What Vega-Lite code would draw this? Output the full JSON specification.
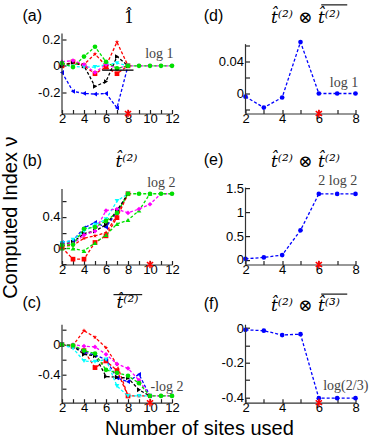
{
  "$schema": "https://vega.github.io/schema/vega-lite/v6.json",
  "padding": {"left": 0, "top": 3.5, "right": 0, "bottom": 0},
  "background": "white",
  "datasets": {
    "a": [
      {"s":"blue","x":2,"y":-0.05},{"s":"blue","x":3,"y":-0.195},{"s":"blue","x":4,"y":-0.21},{"s":"blue","x":5,"y":-0.215},{"s":"blue","x":6,"y":-0.21},{"s":"blue","x":7,"y":-0.32},{"s":"blue","x":8,"y":0},
      {"s":"red","x":2,"y":0},{"s":"red","x":3,"y":0.03},{"s":"red","x":4,"y":0},{"s":"red","x":5,"y":-0.06},{"s":"red","x":6,"y":-0.01},{"s":"red","x":7,"y":-0.06},{"s":"red","x":8,"y":0},
      {"s":"red2","x":2,"y":0.01},{"s":"red2","x":3,"y":0.02},{"s":"red2","x":4,"y":0.01},{"s":"red2","x":5,"y":0.09},{"s":"red2","x":6,"y":0},{"s":"red2","x":7,"y":0.18},{"s":"red2","x":8,"y":0},
      {"s":"black","x":2,"y":0},{"s":"black","x":3,"y":0.025},{"s":"black","x":4,"y":0},{"s":"black","x":5,"y":-0.157},{"s":"black","x":6,"y":-0.12},{"s":"black","x":7,"y":0.07},{"s":"black","x":8,"y":0},
      {"s":"cyan","x":2,"y":0.01},{"s":"cyan","x":3,"y":-0.005},{"s":"cyan","x":4,"y":-0.01},{"s":"cyan","x":5,"y":-0.01},{"s":"cyan","x":6,"y":0.01},{"s":"cyan","x":7,"y":0.02},{"s":"cyan","x":8,"y":0},
      {"s":"magenta","x":2,"y":0.03},{"s":"magenta","x":3,"y":0.04},{"s":"magenta","x":4,"y":0.01},{"s":"magenta","x":5,"y":-0.05},{"s":"magenta","x":6,"y":0.01},{"s":"magenta","x":7,"y":-0.02},{"s":"magenta","x":8,"y":0},{"s":"magenta","x":9,"y":0},{"s":"magenta","x":10,"y":0},{"s":"magenta","x":11,"y":0},{"s":"magenta","x":12,"y":0},
      {"s":"green","x":2,"y":0.02},{"s":"green","x":3,"y":-0.01},{"s":"green","x":4,"y":0.07},{"s":"green","x":5,"y":0.145},{"s":"green","x":6,"y":0.03},{"s":"green","x":7,"y":-0.02},{"s":"green","x":8,"y":0},{"s":"green","x":9,"y":0},{"s":"green","x":10,"y":0},{"s":"green","x":11,"y":0},{"s":"green","x":12,"y":0}
    ],
    "b": [
      {"s":"blue","x":2,"y":0.076},{"s":"blue","x":3,"y":0.1},{"s":"blue","x":4,"y":0.26},{"s":"blue","x":5,"y":0.33},{"s":"blue","x":6,"y":0.27},{"s":"blue","x":7,"y":0.46},{"s":"blue","x":8,"y":0.693},
      {"s":"red","x":2,"y":0.01},{"s":"red","x":3,"y":-0.135},{"s":"red","x":4,"y":-0.135},{"s":"red","x":5,"y":0.076},{"s":"red","x":6,"y":0.16},{"s":"red","x":7,"y":0.39},{"s":"red","x":8,"y":0.693},
      {"s":"red2","x":2,"y":0.03},{"s":"red2","x":3,"y":0.04},{"s":"red2","x":4,"y":0.13},{"s":"red2","x":5,"y":0.16},{"s":"red2","x":6,"y":0.2},{"s":"red2","x":7,"y":0.42},{"s":"red2","x":8,"y":0.693},
      {"s":"black","x":2,"y":0.05},{"s":"black","x":3,"y":0.08},{"s":"black","x":4,"y":0.19},{"s":"black","x":5,"y":0.22},{"s":"black","x":6,"y":0.3},{"s":"black","x":7,"y":0.48},{"s":"black","x":8,"y":0.693},
      {"s":"cyan","x":2,"y":0.07},{"s":"cyan","x":3,"y":0.11},{"s":"cyan","x":4,"y":0.22},{"s":"cyan","x":5,"y":0.3},{"s":"cyan","x":6,"y":0.37},{"s":"cyan","x":7,"y":0.6},{"s":"cyan","x":8,"y":0.693},
      {"s":"green2","x":2,"y":0},{"s":"green2","x":3,"y":0},{"s":"green2","x":4,"y":-0.03},{"s":"green2","x":5,"y":0.07},{"s":"green2","x":6,"y":0.17},{"s":"green2","x":7,"y":0.31},{"s":"green2","x":8,"y":0.36},{"s":"green2","x":9,"y":0.48},{"s":"green2","x":10,"y":0.693},
      {"s":"magenta","x":2,"y":0.05},{"s":"magenta","x":3,"y":0.06},{"s":"magenta","x":4,"y":0.17},{"s":"magenta","x":5,"y":0.22},{"s":"magenta","x":6,"y":0.48},{"s":"magenta","x":7,"y":0.5},{"s":"magenta","x":8,"y":0.45},{"s":"magenta","x":9,"y":0.5},{"s":"magenta","x":10,"y":0.56},{"s":"magenta","x":11,"y":0.693},{"s":"magenta","x":12,"y":0.693},
      {"s":"green","x":2,"y":0.04},{"s":"green","x":3,"y":0.05},{"s":"green","x":4,"y":0.25},{"s":"green","x":5,"y":0.27},{"s":"green","x":6,"y":0.35},{"s":"green","x":7,"y":0.45},{"s":"green","x":8,"y":0.693},{"s":"green","x":9,"y":0.693},{"s":"green","x":10,"y":0.693},{"s":"green","x":11,"y":0.693},{"s":"green","x":12,"y":0.693}
    ],
    "c": [
      {"s":"red2","x":2,"y":0},{"s":"red2","x":3,"y":-0.01},{"s":"red2","x":4,"y":0.19},{"s":"red2","x":5,"y":0.1},{"s":"red2","x":6,"y":-0.04},{"s":"red2","x":7,"y":-0.27},{"s":"red2","x":8,"y":-0.693},{"s":"red2","x":9,"y":-0.693},{"s":"red2","x":10,"y":-0.693},
      {"s":"red","x":2,"y":0},{"s":"red","x":3,"y":-0.02},{"s":"red","x":4,"y":-0.08},{"s":"red","x":5,"y":-0.31},{"s":"red","x":6,"y":-0.22},{"s":"red","x":7,"y":-0.35},{"s":"red","x":8,"y":-0.693},
      {"s":"blue","x":2,"y":0},{"s":"blue","x":3,"y":-0.02},{"s":"blue","x":4,"y":-0.1},{"s":"blue","x":5,"y":-0.14},{"s":"blue","x":6,"y":-0.2},{"s":"blue","x":7,"y":-0.45},{"s":"blue","x":8,"y":-0.5},{"s":"blue","x":9,"y":-0.4},{"s":"blue","x":10,"y":-0.693},
      {"s":"black","x":2,"y":0},{"s":"black","x":3,"y":-0.02},{"s":"black","x":4,"y":-0.13},{"s":"black","x":5,"y":-0.15},{"s":"black","x":6,"y":-0.43},{"s":"black","x":7,"y":-0.44},{"s":"black","x":8,"y":-0.45},{"s":"black","x":9,"y":-0.61},{"s":"black","x":10,"y":-0.693},
      {"s":"cyan","x":2,"y":0},{"s":"cyan","x":3,"y":-0.05},{"s":"cyan","x":4,"y":-0.22},{"s":"cyan","x":5,"y":-0.23},{"s":"cyan","x":6,"y":-0.2},{"s":"cyan","x":7,"y":-0.56},{"s":"cyan","x":8,"y":-0.693},{"s":"cyan","x":9,"y":-0.693},{"s":"cyan","x":10,"y":-0.693},
      {"s":"magenta","x":2,"y":0},{"s":"magenta","x":3,"y":0},{"s":"magenta","x":4,"y":-0.02},{"s":"magenta","x":5,"y":-0.03},{"s":"magenta","x":6,"y":-0.13},{"s":"magenta","x":7,"y":-0.26},{"s":"magenta","x":8,"y":-0.32},{"s":"magenta","x":9,"y":-0.48},{"s":"magenta","x":10,"y":-0.693},{"s":"magenta","x":11,"y":-0.693},{"s":"magenta","x":12,"y":-0.693},
      {"s":"green","x":2,"y":0},{"s":"green","x":3,"y":-0.01},{"s":"green","x":4,"y":-0.08},{"s":"green","x":5,"y":-0.12},{"s":"green","x":6,"y":-0.34},{"s":"green","x":7,"y":-0.38},{"s":"green","x":8,"y":-0.42},{"s":"green","x":9,"y":-0.52},{"s":"green","x":10,"y":-0.693},{"s":"green","x":11,"y":-0.693},{"s":"green","x":12,"y":-0.693}
    ],
    "d": [{"x":2,"y":-0.004},{"x":3,"y":-0.0177},{"x":4,"y":-0.005},{"x":5,"y":0.065},{"x":6,"y":0},{"x":7,"y":0},{"x":8,"y":0}],
    "e": [{"x":2,"y":0.02},{"x":3,"y":0.05},{"x":4,"y":0.1},{"x":5,"y":0.62},{"x":6,"y":1.386},{"x":7,"y":1.386},{"x":8,"y":1.386}],
    "f": [{"x":2,"y":-0.01},{"x":3,"y":-0.015},{"x":4,"y":-0.04},{"x":5,"y":-0.035},{"x":6,"y":-0.405},{"x":7,"y":-0.405},{"x":8,"y":-0.405}],
    "one": [{}]
  },
  "title": {"text": "Computed Index ν", "orient": "left", "anchor": "middle", "fontSize": 20, "fontWeight": "normal", "font": "Liberation Sans", "color": "black", "offset": 1.7, "dx": 4},
  "vconcat": [{
    "title": {"text": "Number of sites used", "orient": "bottom", "anchor": "middle", "fontSize": 20, "fontWeight": "normal", "font": "Liberation Sans", "color": "black", "offset": 4.3, "dx": 4},
    "columns": 2,
    "bounds": "flush",
    "align": "each",
    "spacing": {"row": 59.6, "column": 73.5},
    "concat": [
      {"width": 110, "height": 80, "layer": [
        {"data": {"name": "a"}, "mark": {"type": "line", "strokeDash": [3, 2], "strokeWidth": 1.3},
         "encoding": {
           "x": {"field": "x", "type": "quantitative", "scale": {"domain": [2, 12], "nice": false, "zero": false}, "axis": {"title": null, "tickCount": 50, "values": [2,3,4,5,6,7,8,9,10,11,12], "labelExpr": "datum.value % 2 == 0 ? format(datum.value, 'd') : ''", "labelOverlap": false, "labelFlush": false, "labelPadding": 3}},
           "y": {"field": "y", "type": "quantitative", "scale": {"domain": [-0.3627, 0.2456], "nice": false, "zero": false}, "axis": {"title": null, "domain": false, "tickCount": 50, "values": [-0.2, 0, 0.2], "labelExpr": "datum.value == 0.2 ? '0.2' : datum.value == 0 ? '0' : '-0.2'", "labelOverlap": false, "labelFlush": false, "labelPadding": 6}},
           "color": {"field": "s", "type": "nominal", "legend": null, "scale": {"domain": ["blue","red","red2","magenta","green","green2","black","cyan"], "range": ["#0000ff","#ff0000","#ff0000","#ff00ff","#00e000","#00e000","#000000","#00ffff"]}}
         }},
        {"data": {"name": "a"}, "mark": {"type": "point", "filled": true, "size": 22, "opacity": 1},
         "encoding": {
           "x": {"field": "x", "type": "quantitative"},
           "y": {"field": "y", "type": "quantitative"},
           "color": {"field": "s", "type": "nominal", "legend": null},
           "shape": {"field": "s", "type": "nominal", "legend": null, "scale": {"domain": ["blue","red","red2","magenta","green","green2","black","cyan"], "range": ["triangle-left","square","M0,-1L0.235,-0.324L0.951,-0.309L0.38,0.124L0.588,0.809L0,0.4L-0.588,0.809L-0.38,0.124L-0.951,-0.309L-0.235,-0.324Z","diamond","circle","triangle-up","triangle-right","triangle-down"]}}
         }},
        {"data": {"name": "one"}, "mark": {"type": "rule", "color": "#333", "strokeWidth": 1.2}, "encoding": {"x": {"datum": 2}, "y": {"datum": -0.3627}, "y2": {"datum": 0.2456}}},
        {"data": {"name": "one"}, "mark": {"type": "rule", "color": "black", "strokeWidth": 1.3}, "encoding": {"x": {"datum": 5.65}, "x2": {"datum": 8.5}, "y": {"datum": -0.033}}},
        {"data": {"name": "one"}, "mark": {"type": "point", "shape": "M0,-1L0,1M-0.8,-0.6L0.8,0.6M-0.8,0.6L0.8,-0.6", "filled": false, "stroke": "#ff0000", "strokeWidth": 1.5, "size": 60, "opacity": 1}, "encoding": {"x": {"datum": 8}, "y": {"datum": -0.3627}}},
        {"data": {"name": "one"}, "mark": {"type": "text", "align": "left", "baseline": "middle", "font": "Liberation Sans", "fontSize": 16, "color": "black"}, "encoding": {"x": {"datum": -1.6}, "y": {"datum": 0.38}, "text": {"value": "(a)"}}},
        {"data": {"name": "one"}, "mark": {"type": "text", "align": "center", "baseline": "alphabetic", "font": "DejaVu Serif", "fontSize": 16, "color": "black"}, "encoding": {"x": {"datum": 8.09}, "y": {"datum": 0.3217}, "text": {"value": "1"}}},
        {"data": {"name": "one"}, "mark": {"type": "text", "align": "center", "baseline": "alphabetic", "font": "DejaVu Serif", "fontSize": 16, "color": "black"}, "encoding": {"x": {"datum": 8.09}, "y": {"datum": 0.352}, "text": {"value": "ˆ"}}},
        {"data": {"name": "one"}, "mark": {"type": "text", "align": "right", "baseline": "alphabetic", "font": "Liberation Serif", "fontSize": 14, "color": "#444"}, "encoding": {"x": {"datum": 12.14}, "y": {"datum": 0.06}, "text": {"value": "log 1"}}}
      ]},
      {"width": 110, "height": 80, "layer": [
        {"data": {"name": "d"}, "mark": {"type": "line", "strokeDash": [3, 2], "strokeWidth": 1.3, "color": "#0000ff"},
         "encoding": {
           "x": {"field": "x", "type": "quantitative", "scale": {"domain": [2, 8], "nice": false, "zero": false}, "axis": {"title": null, "tickCount": 50, "values": [2,3,4,5,6,7,8], "labelExpr": "datum.value % 2 == 0 ? format(datum.value, 'd') : ''", "labelOverlap": false, "labelFlush": false, "labelPadding": 3}},
           "y": {"field": "y", "type": "quantitative", "scale": {"domain": [-0.0252, 0.0757], "nice": false, "zero": false}, "axis": {"title": null, "domain": false, "tickCount": 50, "values": [-0.02, 0, 0.02, 0.04, 0.06], "labelExpr": "datum.value == 0.04 ? '0.04' : datum.value == 0 ? '0' : ''", "labelOverlap": false, "labelFlush": false, "labelPadding": 6}}
         }},
        {"data": {"name": "d"}, "mark": {"type": "point", "filled": true, "size": 22, "opacity": 1, "color": "#0000ff", "shape": "circle"},
         "encoding": {"x": {"field": "x", "type": "quantitative"}, "y": {"field": "y", "type": "quantitative"}}},
        {"data": {"name": "one"}, "mark": {"type": "rule", "color": "#333", "strokeWidth": 1.2}, "encoding": {"x": {"datum": 2}, "y": {"datum": -0.0252}, "y2": {"datum": 0.0623}}},
        {"data": {"name": "one"}, "mark": {"type": "point", "shape": "M0,-1L0,1M-0.8,-0.6L0.8,0.6M-0.8,0.6L0.8,-0.6", "filled": false, "stroke": "#ff0000", "strokeWidth": 1.5, "size": 60, "opacity": 1}, "encoding": {"x": {"datum": 6}, "y": {"datum": -0.0252}}},
        {"data": {"name": "one"}, "mark": {"type": "text", "align": "left", "baseline": "middle", "font": "Liberation Sans", "fontSize": 16, "color": "black"}, "encoding": {"x": {"datum": -0.275}, "y": {"datum": 0.098}, "text": {"value": "(d)"}}},
        {"data": {"name": "one"}, "mark": {"type": "text", "align": "center", "baseline": "alphabetic", "font": "DejaVu Serif", "fontStyle": "italic", "fontSize": 17, "color": "black"}, "encoding": {"x": {"datum": 5.27}, "y": {"datum": 0.0892}, "text": {"value": "t̂⁽²⁾ ⊗ t̂⁽²⁾"}}},
        {"data": {"name": "one"}, "mark": {"type": "rule", "color": "black", "strokeWidth": 1.1}, "encoding": {"x": {"datum": 6.13}, "x2": {"datum": 7.55}, "y": {"datum": 0.1118}}},
        {"data": {"name": "one"}, "mark": {"type": "text", "align": "right", "baseline": "alphabetic", "font": "Liberation Serif", "fontSize": 14, "color": "#444"}, "encoding": {"x": {"datum": 8.15}, "y": {"datum": 0.0085}, "text": {"value": "log 1"}}}
      ]},
      {"width": 110, "height": 91.4, "layer": [
        {"data": {"name": "b"}, "mark": {"type": "line", "strokeDash": [3, 2], "strokeWidth": 1.3},
         "encoding": {
           "x": {"field": "x", "type": "quantitative", "scale": {"domain": [2, 12], "nice": false, "zero": false}, "axis": {"title": null, "tickCount": 50, "values": [2,3,4,5,6,7,8,9,10,11,12], "labelExpr": "datum.value % 2 == 0 ? format(datum.value, 'd') : ''", "labelOverlap": false, "labelFlush": false, "labelPadding": 3}},
           "y": {"field": "y", "type": "quantitative", "scale": {"domain": [-0.2025, 0.954], "nice": false, "zero": false}, "axis": {"title": null, "domain": false, "tickCount": 50, "values": [-0.2, 0, 0.2, 0.4, 0.6], "labelExpr": "datum.value == 0.4 ? '0.4' : datum.value == 0 ? '0' : ''", "labelOverlap": false, "labelFlush": false, "labelPadding": 6}},
           "color": {"field": "s", "type": "nominal", "legend": null, "scale": {"domain": ["blue","red","red2","magenta","green","green2","black","cyan"], "range": ["#0000ff","#ff0000","#ff0000","#ff00ff","#00e000","#00e000","#000000","#00ffff"]}}
         }},
        {"data": {"name": "b"}, "mark": {"type": "point", "filled": true, "size": 22, "opacity": 1},
         "encoding": {
           "x": {"field": "x", "type": "quantitative"},
           "y": {"field": "y", "type": "quantitative"},
           "color": {"field": "s", "type": "nominal", "legend": null},
           "shape": {"field": "s", "type": "nominal", "legend": null, "scale": {"domain": ["blue","red","red2","magenta","green","green2","black","cyan"], "range": ["circle","square","square","diamond","circle","triangle-up","triangle-right","triangle-down"]}}
         }},
        {"data": {"name": "one"}, "mark": {"type": "rule", "color": "#333", "strokeWidth": 1.2}, "encoding": {"x": {"datum": 2}, "y": {"datum": -0.2025}, "y2": {"datum": 0.754}}},
        {"data": {"name": "one"}, "mark": {"type": "point", "shape": "M0,-1L0,1M-0.8,-0.6L0.8,0.6M-0.8,0.6L0.8,-0.6", "filled": false, "stroke": "#ff0000", "strokeWidth": 1.5, "size": 60, "opacity": 1}, "encoding": {"x": {"datum": 10}, "y": {"datum": -0.2025}}},
        {"data": {"name": "one"}, "mark": {"type": "text", "align": "left", "baseline": "middle", "font": "Liberation Sans", "fontSize": 16, "color": "black"}, "encoding": {"x": {"datum": -1.6}, "y": {"datum": 1.11}, "text": {"value": "(b)"}}},
        {"data": {"name": "one"}, "mark": {"type": "text", "align": "center", "baseline": "alphabetic", "font": "DejaVu Serif", "fontStyle": "italic", "fontSize": 17, "color": "black"}, "encoding": {"x": {"datum": 7.86}, "y": {"datum": 1.034}, "text": {"value": "t̂⁽²⁾"}}},
        {"data": {"name": "one"}, "mark": {"type": "text", "align": "right", "baseline": "alphabetic", "font": "Liberation Serif", "fontSize": 14, "color": "#444"}, "encoding": {"x": {"datum": 12.32}, "y": {"datum": 0.78}, "text": {"value": "log 2"}}}
      ]},
      {"width": 110, "height": 91.4, "layer": [
        {"data": {"name": "e"}, "mark": {"type": "line", "strokeDash": [3, 2], "strokeWidth": 1.3, "color": "#0000ff"},
         "encoding": {
           "x": {"field": "x", "type": "quantitative", "scale": {"domain": [2, 8], "nice": false, "zero": false}, "axis": {"title": null, "tickCount": 50, "values": [2,3,4,5,6,7,8], "labelExpr": "datum.value % 2 == 0 ? format(datum.value, 'd') : ''", "labelOverlap": false, "labelFlush": false, "labelPadding": 3}},
           "y": {"field": "y", "type": "quantitative", "scale": {"domain": [-0.099, 1.825], "nice": false, "zero": false}, "axis": {"title": null, "domain": false, "tickCount": 50, "values": [0, 0.5, 1, 1.5], "labelExpr": "datum.value == 0 ? '0' : datum.value == 0.5 ? '0.5' : datum.value == 1 ? '1' : '1.5'", "labelOverlap": false, "labelFlush": false, "labelPadding": 6}}
         }},
        {"data": {"name": "e"}, "mark": {"type": "point", "filled": true, "size": 22, "opacity": 1, "color": "#0000ff", "shape": "circle"},
         "encoding": {"x": {"field": "x", "type": "quantitative"}, "y": {"field": "y", "type": "quantitative"}}},
        {"data": {"name": "one"}, "mark": {"type": "rule", "color": "#333", "strokeWidth": 1.2}, "encoding": {"x": {"datum": 2}, "y": {"datum": -0.099}, "y2": {"datum": 1.52}}},
        {"data": {"name": "one"}, "mark": {"type": "point", "shape": "M0,-1L0,1M-0.8,-0.6L0.8,0.6M-0.8,0.6L0.8,-0.6", "filled": false, "stroke": "#ff0000", "strokeWidth": 1.5, "size": 60, "opacity": 1}, "encoding": {"x": {"datum": 6}, "y": {"datum": -0.099}}},
        {"data": {"name": "one"}, "mark": {"type": "text", "align": "left", "baseline": "middle", "font": "Liberation Sans", "fontSize": 16, "color": "black"}, "encoding": {"x": {"datum": -0.275}, "y": {"datum": 2.105}, "text": {"value": "(e)"}}},
        {"data": {"name": "one"}, "mark": {"type": "text", "align": "center", "baseline": "alphabetic", "font": "DejaVu Serif", "fontStyle": "italic", "fontSize": 17, "color": "black"}, "encoding": {"x": {"datum": 5.27}, "y": {"datum": 1.96}, "text": {"value": "t̂⁽²⁾ ⊗ t̂⁽²⁾"}}},
        {"data": {"name": "one"}, "mark": {"type": "text", "align": "right", "baseline": "alphabetic", "font": "Liberation Serif", "fontSize": 14, "color": "#444"}, "encoding": {"x": {"datum": 8.09}, "y": {"datum": 1.58}, "text": {"value": "2 log 2"}}}
      ]},
      {"width": 110, "height": 78, "layer": [
        {"data": {"name": "c"}, "mark": {"type": "line", "strokeDash": [3, 2], "strokeWidth": 1.3},
         "encoding": {
           "x": {"field": "x", "type": "quantitative", "scale": {"domain": [2, 12], "nice": false, "zero": false}, "axis": {"title": null, "tickCount": 50, "values": [2,3,4,5,6,7,8,9,10,11,12], "labelExpr": "datum.value % 2 == 0 ? format(datum.value, 'd') : ''", "labelOverlap": false, "labelFlush": false, "labelPadding": 3}},
           "y": {"field": "y", "type": "quantitative", "scale": {"domain": [-0.784, 0.27], "nice": false, "zero": false}, "axis": {"title": null, "domain": false, "tickCount": 50, "values": [-0.6, -0.4, -0.2, 0, 0.2], "labelExpr": "datum.value == -0.4 ? '-0.4' : datum.value == 0 ? '0' : ''", "labelOverlap": false, "labelFlush": false, "labelPadding": 6}},
           "color": {"field": "s", "type": "nominal", "legend": null, "scale": {"domain": ["blue","red","red2","magenta","green","green2","black","cyan"], "range": ["#0000ff","#ff0000","#ff0000","#ff00ff","#00e000","#00e000","#000000","#00ffff"]}}
         }},
        {"data": {"name": "c"}, "mark": {"type": "point", "filled": true, "size": 22, "opacity": 1},
         "encoding": {
           "x": {"field": "x", "type": "quantitative"},
           "y": {"field": "y", "type": "quantitative"},
           "color": {"field": "s", "type": "nominal", "legend": null},
           "shape": {"field": "s", "type": "nominal", "legend": null, "scale": {"domain": ["blue","red","red2","magenta","green","green2","black","cyan"], "range": ["triangle-left","square","M0,-1L0.235,-0.324L0.951,-0.309L0.38,0.124L0.588,0.809L0,0.4L-0.588,0.809L-0.38,0.124L-0.951,-0.309L-0.235,-0.324Z","diamond","circle","triangle-up","triangle-right","triangle-down"]}}
         }},
        {"data": {"name": "one"}, "mark": {"type": "rule", "color": "#333", "strokeWidth": 1.2}, "encoding": {"x": {"datum": 2}, "y": {"datum": -0.784}, "y2": {"datum": 0.27}}},
        {"data": {"name": "one"}, "mark": {"type": "point", "shape": "M0,-1L0,1M-0.8,-0.6L0.8,0.6M-0.8,0.6L0.8,-0.6", "filled": false, "stroke": "#ff0000", "strokeWidth": 1.5, "size": 60, "opacity": 1}, "encoding": {"x": {"datum": 10}, "y": {"datum": -0.784}}},
        {"data": {"name": "one"}, "mark": {"type": "text", "align": "left", "baseline": "middle", "font": "Liberation Sans", "fontSize": 16, "color": "black"}, "encoding": {"x": {"datum": -1.6}, "y": {"datum": 0.562}, "text": {"value": "(c)"}}},
        {"data": {"name": "one"}, "mark": {"type": "text", "align": "center", "baseline": "alphabetic", "font": "DejaVu Serif", "fontStyle": "italic", "fontSize": 17, "color": "black"}, "encoding": {"x": {"datum": 7.95}, "y": {"datum": 0.49}, "text": {"value": "t̂⁽²⁾"}}},
        {"data": {"name": "one"}, "mark": {"type": "rule", "color": "black", "strokeWidth": 1.1}, "encoding": {"x": {"datum": 6.68}, "x2": {"datum": 9.29}, "y": {"datum": 0.676}}},
        {"data": {"name": "one"}, "mark": {"type": "text", "align": "right", "baseline": "alphabetic", "font": "Liberation Serif", "fontSize": 14, "color": "#444"}, "encoding": {"x": {"datum": 13.05}, "y": {"datum": -0.62}, "text": {"value": "-log 2"}}}
      ]},
      {"width": 110, "height": 78, "layer": [
        {"data": {"name": "f"}, "mark": {"type": "line", "strokeDash": [3, 2], "strokeWidth": 1.3, "color": "#0000ff"},
         "encoding": {
           "x": {"field": "x", "type": "quantitative", "scale": {"domain": [2, 8], "nice": false, "zero": false}, "axis": {"title": null, "tickCount": 50, "values": [2,3,4,5,6,7,8], "labelExpr": "datum.value % 2 == 0 ? format(datum.value, 'd') : ''", "labelOverlap": false, "labelFlush": false, "labelPadding": 3}},
           "y": {"field": "y", "type": "quantitative", "scale": {"domain": [-0.431, 0.0197], "nice": false, "zero": false}, "axis": {"title": null, "domain": false, "tickCount": 50, "values": [-0.4, -0.3, -0.2, -0.1, 0], "labelExpr": "datum.value == -0.4 ? '-0.4' : datum.value == -0.2 ? '-0.2' : datum.value == 0 ? '0' : ''", "labelOverlap": false, "labelFlush": false, "labelPadding": 6}}
         }},
        {"data": {"name": "f"}, "mark": {"type": "point", "filled": true, "size": 22, "opacity": 1, "color": "#0000ff", "shape": "circle"},
         "encoding": {"x": {"field": "x", "type": "quantitative"}, "y": {"field": "y", "type": "quantitative"}}},
        {"data": {"name": "one"}, "mark": {"type": "rule", "color": "#333", "strokeWidth": 1.2}, "encoding": {"x": {"datum": 2}, "y": {"datum": -0.431}, "y2": {"datum": 0.0197}}},
        {"data": {"name": "one"}, "mark": {"type": "point", "shape": "M0,-1L0,1M-0.8,-0.6L0.8,0.6M-0.8,0.6L0.8,-0.6", "filled": false, "stroke": "#ff0000", "strokeWidth": 1.5, "size": 60, "opacity": 1}, "encoding": {"x": {"datum": 6}, "y": {"datum": -0.431}}},
        {"data": {"name": "one"}, "mark": {"type": "text", "align": "left", "baseline": "middle", "font": "Liberation Sans", "fontSize": 16, "color": "black"}, "encoding": {"x": {"datum": -0.275}, "y": {"datum": 0.14}, "text": {"value": "(f)"}}},
        {"data": {"name": "one"}, "mark": {"type": "text", "align": "center", "baseline": "alphabetic", "font": "DejaVu Serif", "fontStyle": "italic", "fontSize": 17, "color": "black"}, "encoding": {"x": {"datum": 5.27}, "y": {"datum": 0.097}, "text": {"value": "t̂⁽²⁾ ⊗ t̂⁽³⁾"}}},
        {"data": {"name": "one"}, "mark": {"type": "rule", "color": "black", "strokeWidth": 1.1}, "encoding": {"x": {"datum": 6.13}, "x2": {"datum": 7.55}, "y": {"datum": 0.1965}}},
        {"data": {"name": "one"}, "mark": {"type": "text", "align": "left", "baseline": "alphabetic", "font": "Liberation Serif", "fontSize": 14, "color": "#444"}, "encoding": {"x": {"datum": 6.24}, "y": {"datum": -0.36}, "text": {"value": "log(2/3)"}}}
      ]}
    ]
  }],
  "config": {
    "view": {"stroke": null},
    "axis": {"grid": false, "domainColor": "#333", "tickColor": "#222", "labelColor": "black", "labelFont": "Liberation Sans", "labelFontSize": 13, "tickSize": -4, "domainWidth": 1.2, "tickWidth": 1.2, "labelOverlap": false, "tickCount": 50}
  }
}
